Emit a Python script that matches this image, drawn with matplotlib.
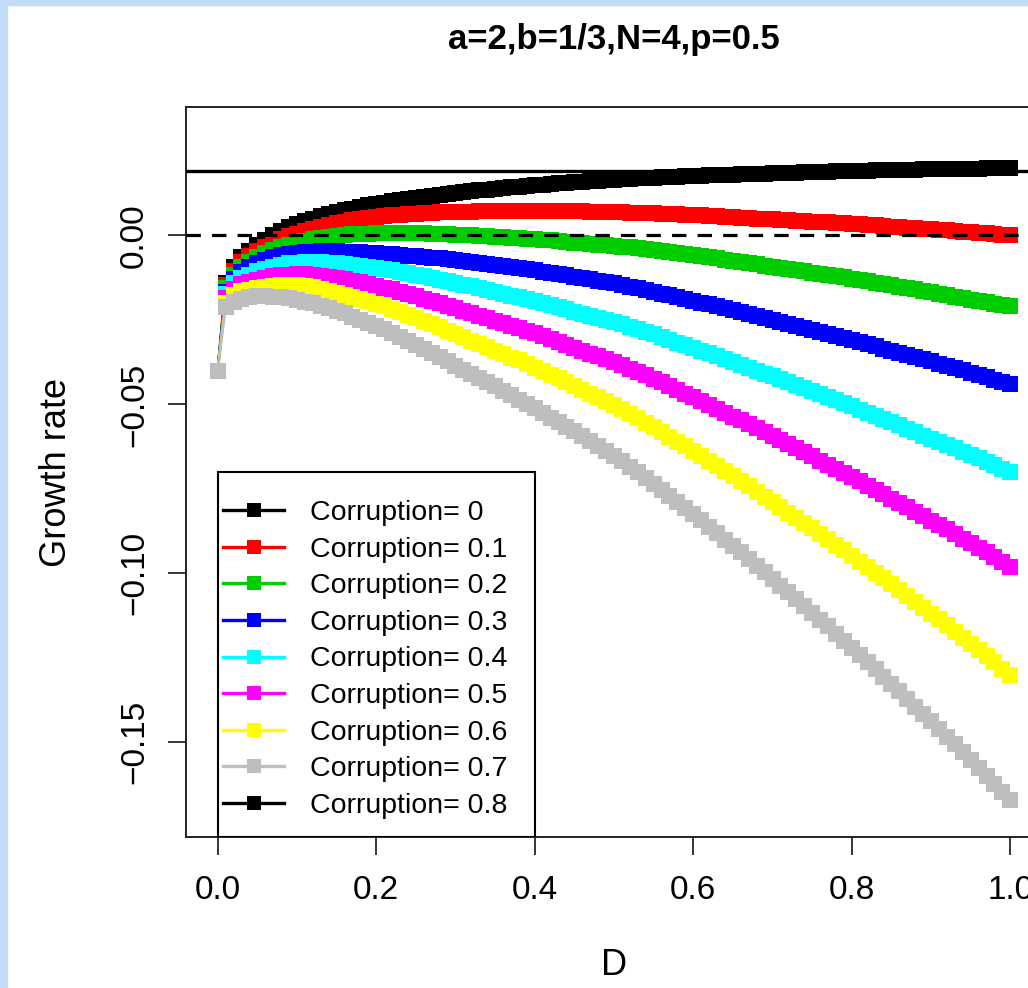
import matplotlib.pyplot as plt
from matplotlib.lines import Line2D
from matplotlib.patches import Rectangle

plt.rcParams["font.family"] = ["Liberation Sans", "DejaVu Sans"]

# ----------------------------
# Data (D step 0.01)
# ----------------------------
D = [0.00, 0.01, 0.02, 0.03, 0.04, 0.05, 0.06, 0.07, 0.08, 0.09,
     0.10, 0.11, 0.12, 0.13, 0.14, 0.15, 0.16, 0.17, 0.18, 0.19,
     0.20, 0.21, 0.22, 0.23, 0.24, 0.25, 0.26, 0.27, 0.28, 0.29,
     0.30, 0.31, 0.32, 0.33, 0.34, 0.35, 0.36, 0.37, 0.38, 0.39,
     0.40, 0.41, 0.42, 0.43, 0.44, 0.45, 0.46, 0.47, 0.48, 0.49,
     0.50, 0.51, 0.52, 0.53, 0.54, 0.55, 0.56, 0.57, 0.58, 0.59,
     0.60, 0.61, 0.62, 0.63, 0.64, 0.65, 0.66, 0.67, 0.68, 0.69,
     0.70, 0.71, 0.72, 0.73, 0.74, 0.75, 0.76, 0.77, 0.78, 0.79,
     0.80, 0.81, 0.82, 0.83, 0.84, 0.85, 0.86, 0.87, 0.88, 0.89,
     0.90, 0.91, 0.92, 0.93, 0.94, 0.95, 0.96, 0.97, 0.98, 0.99,
     1.00]

growth_c00 = [-0.0400, -0.0140, -0.0093, -0.0065, -0.0046, -0.0028, -0.0013, 0.0001, 0.0013, 0.0024,
              0.0034, 0.0042, 0.0050, 0.0057, 0.0063, 0.0069, 0.0074, 0.0079, 0.0084, 0.0089,
              0.0093, 0.0097, 0.0101, 0.0105, 0.0108, 0.0111, 0.0114, 0.0117, 0.0120, 0.0123,
              0.0125, 0.0128, 0.0130, 0.0133, 0.0135, 0.0138, 0.0140, 0.0142, 0.0144, 0.0146,
              0.0148, 0.0150, 0.0152, 0.0154, 0.0155, 0.0157, 0.0158, 0.0160, 0.0161, 0.0163,
              0.0165, 0.0166, 0.0167, 0.0169, 0.0170, 0.0171, 0.0172, 0.0173, 0.0174, 0.0175,
              0.0176, 0.0177, 0.0178, 0.0179, 0.0179, 0.0180, 0.0181, 0.0182, 0.0182, 0.0183,
              0.0184, 0.0185, 0.0185, 0.0186, 0.0187, 0.0188, 0.0188, 0.0189, 0.0190, 0.0190,
              0.0191, 0.0192, 0.0192, 0.0193, 0.0193, 0.0194, 0.0194, 0.0195, 0.0195, 0.0196,
              0.0196, 0.0197, 0.0197, 0.0197, 0.0198, 0.0198, 0.0198, 0.0199, 0.0199, 0.0200,
              0.0200]
growth_c01 = [-0.0400, -0.0148, -0.0104, -0.0080, -0.0062, -0.0047, -0.0034, -0.0022, -0.0012, -0.0003,
              0.0005, 0.0012, 0.0019, 0.0025, 0.0031, 0.0036, 0.0041, 0.0045, 0.0048, 0.0052,
              0.0055, 0.0057, 0.0059, 0.0061, 0.0063, 0.0064, 0.0065, 0.0067, 0.0068, 0.0068,
              0.0069, 0.0070, 0.0070, 0.0071, 0.0072, 0.0072, 0.0072, 0.0073, 0.0073, 0.0073,
              0.0073, 0.0073, 0.0072, 0.0072, 0.0071, 0.0071, 0.0071, 0.0070, 0.0070, 0.0069,
              0.0069, 0.0068, 0.0067, 0.0066, 0.0066, 0.0065, 0.0064, 0.0063, 0.0062, 0.0061,
              0.0060, 0.0059, 0.0058, 0.0056, 0.0055, 0.0054, 0.0053, 0.0051, 0.0050, 0.0049,
              0.0048, 0.0046, 0.0045, 0.0044, 0.0043, 0.0041, 0.0040, 0.0039, 0.0038, 0.0036,
              0.0034, 0.0033, 0.0031, 0.0030, 0.0028, 0.0026, 0.0025, 0.0023, 0.0021, 0.0020,
              0.0018, 0.0016, 0.0015, 0.0013, 0.0011, 0.0009, 0.0007, 0.0006, 0.0004, 0.0002,
              0.0000]
growth_c02 = [-0.0400, -0.0155, -0.0116, -0.0094, -0.0078, -0.0064, -0.0053, -0.0043, -0.0035, -0.0028,
              -0.0022, -0.0016, -0.0011, -0.0007, -0.0004, -0.0001, 0.0001, 0.0003, 0.0004, 0.0005,
              0.0006, 0.0006, 0.0007, 0.0007, 0.0007, 0.0006, 0.0006, 0.0005, 0.0004, 0.0003,
              0.0002, 0.0001, 0.0000, -0.0001, -0.0002, -0.0004, -0.0005, -0.0007, -0.0008, -0.0010,
              -0.0011, -0.0013, -0.0015, -0.0017, -0.0019, -0.0021, -0.0023, -0.0025, -0.0027, -0.0029,
              -0.0031, -0.0033, -0.0035, -0.0038, -0.0040, -0.0043, -0.0046, -0.0049, -0.0052, -0.0055,
              -0.0058, -0.0061, -0.0064, -0.0068, -0.0072, -0.0075, -0.0078, -0.0082, -0.0085, -0.0089,
              -0.0092, -0.0096, -0.0099, -0.0103, -0.0106, -0.0110, -0.0114, -0.0117, -0.0120, -0.0124,
              -0.0128, -0.0132, -0.0136, -0.0140, -0.0144, -0.0148, -0.0152, -0.0156, -0.0160, -0.0164,
              -0.0168, -0.0172, -0.0176, -0.0181, -0.0185, -0.0190, -0.0194, -0.0198, -0.0202, -0.0206,
              -0.0210]
growth_c03 = [-0.0400, -0.0166, -0.0128, -0.0108, -0.0094, -0.0082, -0.0073, -0.0065, -0.0059, -0.0054,
              -0.0051, -0.0049, -0.0048, -0.0047, -0.0047, -0.0047, -0.0048, -0.0049, -0.0050, -0.0051,
              -0.0052, -0.0054, -0.0056, -0.0058, -0.0060, -0.0062, -0.0064, -0.0066, -0.0068, -0.0070,
              -0.0072, -0.0075, -0.0078, -0.0081, -0.0084, -0.0087, -0.0090, -0.0094, -0.0097, -0.0100,
              -0.0103, -0.0107, -0.0111, -0.0115, -0.0118, -0.0122, -0.0126, -0.0130, -0.0134, -0.0138,
              -0.0142, -0.0147, -0.0152, -0.0157, -0.0162, -0.0167, -0.0172, -0.0177, -0.0183, -0.0188,
              -0.0194, -0.0199, -0.0204, -0.0210, -0.0216, -0.0221, -0.0227, -0.0233, -0.0239, -0.0245,
              -0.0251, -0.0256, -0.0262, -0.0268, -0.0274, -0.0280, -0.0286, -0.0291, -0.0297, -0.0303,
              -0.0310, -0.0316, -0.0322, -0.0328, -0.0335, -0.0341, -0.0348, -0.0354, -0.0361, -0.0367,
              -0.0373, -0.0379, -0.0386, -0.0392, -0.0399, -0.0406, -0.0413, -0.0420, -0.0427, -0.0433,
              -0.0440]
growth_c04 = [-0.0400, -0.0174, -0.0142, -0.0126, -0.0116, -0.0106, -0.0099, -0.0092, -0.0087, -0.0083,
              -0.0081, -0.0080, -0.0079, -0.0080, -0.0081, -0.0083, -0.0085, -0.0087, -0.0090, -0.0093,
              -0.0096, -0.0099, -0.0103, -0.0107, -0.0111, -0.0116, -0.0121, -0.0126, -0.0131, -0.0136,
              -0.0142, -0.0147, -0.0151, -0.0157, -0.0162, -0.0168, -0.0173, -0.0179, -0.0183, -0.0189,
              -0.0195, -0.0201, -0.0207, -0.0213, -0.0219, -0.0226, -0.0232, -0.0238, -0.0244, -0.0250,
              -0.0257, -0.0263, -0.0270, -0.0278, -0.0285, -0.0293, -0.0301, -0.0309, -0.0317, -0.0325,
              -0.0333, -0.0341, -0.0349, -0.0358, -0.0366, -0.0375, -0.0383, -0.0392, -0.0400, -0.0409,
              -0.0417, -0.0426, -0.0435, -0.0444, -0.0452, -0.0461, -0.0470, -0.0479, -0.0488, -0.0497,
              -0.0506, -0.0516, -0.0525, -0.0535, -0.0544, -0.0553, -0.0562, -0.0572, -0.0582, -0.0592,
              -0.0601, -0.0611, -0.0620, -0.0630, -0.0640, -0.0650, -0.0660, -0.0670, -0.0680, -0.0690,
              -0.0700]
growth_c05 = [-0.0400, -0.0186, -0.0158, -0.0145, -0.0138, -0.0131, -0.0126, -0.0121, -0.0118, -0.0116,
              -0.0115, -0.0115, -0.0117, -0.0119, -0.0122, -0.0126, -0.0130, -0.0134, -0.0139, -0.0144,
              -0.0149, -0.0155, -0.0160, -0.0166, -0.0173, -0.0180, -0.0187, -0.0194, -0.0201, -0.0208,
              -0.0216, -0.0224, -0.0231, -0.0239, -0.0245, -0.0253, -0.0260, -0.0268, -0.0275, -0.0284,
              -0.0290, -0.0299, -0.0307, -0.0316, -0.0324, -0.0333, -0.0341, -0.0350, -0.0357, -0.0366,
              -0.0375, -0.0384, -0.0394, -0.0404, -0.0414, -0.0425, -0.0435, -0.0446, -0.0457, -0.0468,
              -0.0479, -0.0490, -0.0501, -0.0513, -0.0524, -0.0536, -0.0547, -0.0559, -0.0570, -0.0582,
              -0.0593, -0.0606, -0.0618, -0.0630, -0.0641, -0.0654, -0.0666, -0.0678, -0.0690, -0.0703,
              -0.0715, -0.0728, -0.0740, -0.0753, -0.0766, -0.0779, -0.0792, -0.0805, -0.0818, -0.0831,
              -0.0844, -0.0857, -0.0870, -0.0884, -0.0897, -0.0911, -0.0925, -0.0938, -0.0952, -0.0966,
              -0.0980]
growth_c06 = [-0.0400, -0.0199, -0.0175, -0.0165, -0.0161, -0.0155, -0.0152, -0.0149, -0.0148, -0.0147,
              -0.0148, -0.0151, -0.0154, -0.0158, -0.0163, -0.0169, -0.0175, -0.0181, -0.0188, -0.0195,
              -0.0202, -0.0210, -0.0218, -0.0226, -0.0235, -0.0244, -0.0253, -0.0262, -0.0272, -0.0282,
              -0.0292, -0.0302, -0.0312, -0.0322, -0.0330, -0.0341, -0.0351, -0.0362, -0.0370, -0.0381,
              -0.0391, -0.0402, -0.0412, -0.0423, -0.0434, -0.0445, -0.0457, -0.0468, -0.0479, -0.0490,
              -0.0503, -0.0515, -0.0527, -0.0540, -0.0554, -0.0567, -0.0581, -0.0595, -0.0610, -0.0624,
              -0.0638, -0.0652, -0.0667, -0.0682, -0.0697, -0.0712, -0.0727, -0.0742, -0.0758, -0.0773,
              -0.0788, -0.0804, -0.0820, -0.0835, -0.0851, -0.0867, -0.0883, -0.0899, -0.0915, -0.0931,
              -0.0948, -0.0965, -0.0982, -0.0998, -0.1015, -0.1032, -0.1050, -0.1067, -0.1084, -0.1101,
              -0.1119, -0.1136, -0.1154, -0.1172, -0.1190, -0.1208, -0.1227, -0.1245, -0.1263, -0.1282,
              -0.1300]
growth_c07 = [-0.0400, -0.0212, -0.0196, -0.0187, -0.0182, -0.0180, -0.0180, -0.0181, -0.0183, -0.0186,
              -0.0191, -0.0196, -0.0201, -0.0208, -0.0215, -0.0223, -0.0231, -0.0240, -0.0249, -0.0258,
              -0.0268, -0.0278, -0.0289, -0.0300, -0.0311, -0.0323, -0.0335, -0.0347, -0.0359, -0.0372,
              -0.0385, -0.0397, -0.0409, -0.0422, -0.0435, -0.0447, -0.0460, -0.0473, -0.0486, -0.0499,
              -0.0512, -0.0525, -0.0539, -0.0552, -0.0566, -0.0580, -0.0594, -0.0608, -0.0623, -0.0638,
              -0.0653, -0.0668, -0.0684, -0.0701, -0.0718, -0.0735, -0.0753, -0.0771, -0.0789, -0.0807,
              -0.0825, -0.0843, -0.0862, -0.0881, -0.0900, -0.0919, -0.0938, -0.0957, -0.0977, -0.0996,
              -0.1016, -0.1036, -0.1056, -0.1076, -0.1096, -0.1116, -0.1137, -0.1157, -0.1178, -0.1199,
              -0.1220, -0.1241, -0.1262, -0.1284, -0.1306, -0.1327, -0.1349, -0.1371, -0.1394, -0.1416,
              -0.1438, -0.1461, -0.1483, -0.1506, -0.1529, -0.1552, -0.1576, -0.1599, -0.1623, -0.1646,
              -0.1670]

series = [growth_c00, growth_c01, growth_c02, growth_c03,
          growth_c04, growth_c05, growth_c06, growth_c07]

corruption = [0, 0.1, 0.2, 0.3, 0.4, 0.5, 0.6, 0.7, 0.8]
colors = ["black", "#FF0000", "#00CD00", "#0000FF", "#00FFFF",
          "#FF00FF", "#FFFF00", "#BEBEBE", "black"]

ref_level = 0.019  # solid horizontal reference line

x_ticks = [0.0, 0.2, 0.4, 0.6, 0.8, 1.0]
x_ticklabels = ["0.0", "0.2", "0.4", "0.6", "0.8", "1.0"]
y_ticks = [-0.15, -0.10, -0.05, 0.00]
y_ticklabels = ["\u22120.15", "\u22120.10", "\u22120.05", "0.00"]

# ----------------------------
# Layout
# ----------------------------
W, H = 1028, 988
MS = 11.0        # square marker size (pt)
FS_TICK = 24
FS_LAB = 26
FS_LEG = 20.5

fig = plt.figure(figsize=(W / 100, H / 100), dpi=100)
fig.patch.set_facecolor("white")

# light blue slide border (left and top)
fig.patches.append(Rectangle((0, 0), 7 / W, 1, transform=fig.transFigure,
                             color="#c3dbf6", zorder=0))
fig.patches.append(Rectangle((0, 1 - 5 / H), 1, 5 / H, transform=fig.transFigure,
                             color="#c3dbf6", zorder=0))

ax = fig.add_axes([186 / W, 1 - 837 / H, 856 / W, 730 / H])

for vals, col in zip(series, colors):
    ax.plot(D, vals, color=col, lw=1.8, marker="s", ms=MS, mew=0, zorder=2)

ax.axhline(ref_level, color="black", lw=2.4, zorder=3)
ax.axhline(0, color="black", lw=2.3, ls=(0, (4.5, 3.5)), zorder=3)

ax.set_xlim(-0.04, 1.04)
ax.set_ylim(-0.178, 0.038)

ax.set_xticks(x_ticks)
ax.set_xticklabels(x_ticklabels)
ax.set_yticks(y_ticks)
ax.set_yticklabels(y_ticklabels, rotation=90, va="center")
ax.tick_params(axis="both", length=13, width=1.1, labelsize=FS_TICK)
ax.tick_params(axis="x", pad=14)
ax.tick_params(axis="y", pad=13)
for sp in ax.spines.values():
    sp.set_linewidth(1.4)
    sp.set_color("#222222")

ax.set_xlabel("D", fontsize=FS_LAB)
ax.xaxis.set_label_coords(0.5, -(965 - 837) / 730)
ax.xaxis.label.set_va("center")
ax.set_ylabel("Growth rate", fontsize=FS_LAB)
ax.yaxis.set_label_coords(-(186 - 57) / 856, 0.5)
ax.yaxis.label.set_va("center")

fig.text(614 / W, 1 - 40 / H, "a=2,b=1/3,N=4,p=0.5", ha="center", va="center",
         fontsize=25, fontweight="bold")

# legend frame spans D 0..0.4 from y=-0.07 down to the bottom of the plot
ax.add_patch(Rectangle((0.0, -0.178), 0.4, 0.108, facecolor="white",
                       edgecolor="black", lw=1.5, zorder=4))

handles = [Line2D([], [], color=c, lw=2.4, marker="s", ms=10.3, mew=0) for c in colors]
labels = [f"Corruption= {c:g}" for c in corruption]
ax.legend(handles, labels, loc="upper left", bbox_to_anchor=(0.0, -0.0767),
          bbox_transform=ax.transData, frameon=False, fontsize=FS_LEG,
          handlelength=2.14, handletextpad=0.9, labelspacing=0.37,
          borderpad=0.2, borderaxespad=0)

fig.savefig("out.png", dpi=100)
